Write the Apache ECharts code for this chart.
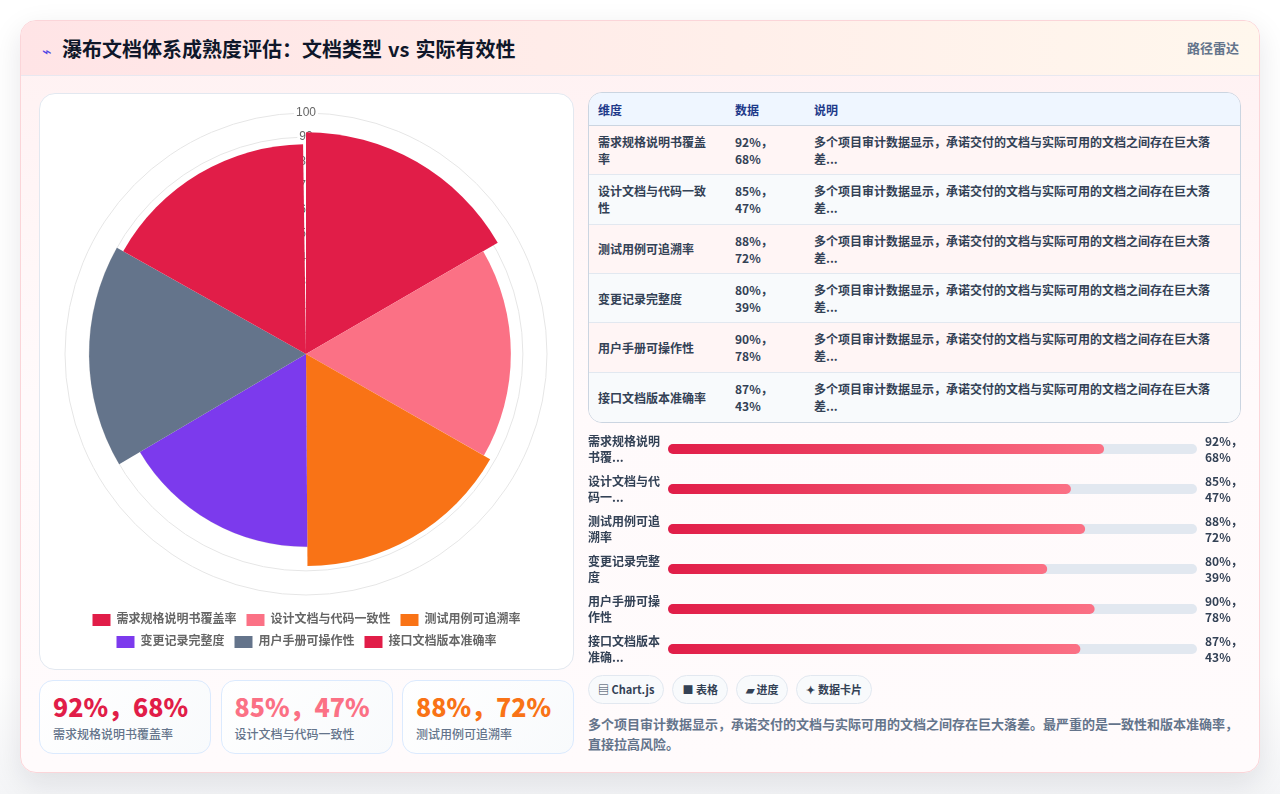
<!DOCTYPE html>
<html lang="zh-CN">
<head>
<meta charset="utf-8">
<title>瀑布文档体系成熟度评估</title>
<script src="https://cdn.jsdelivr.net/npm/echarts@6/dist/echarts.min.js"></script>
<style>
*{box-sizing:border-box;margin:0;padding:0}
html,body{width:1280px;height:794px;overflow:hidden;background:#fff;font-family:"Noto Sans CJK SC",sans-serif}
body{background:linear-gradient(180deg,#fff 0%,#fff 85%,#f4f5f7 100%)}
.card{position:absolute;left:20px;top:20px;width:1240px;height:753px;border:1px solid #fbd5d9;border-radius:16px;overflow:hidden;
 background:linear-gradient(180deg,#fff1f2 0%,#fffafb 50%,#fffbfc 100%);box-shadow:0 10px 30px rgba(15,23,42,.10)}
.head{position:absolute;left:0;top:0;width:1238px;height:55px;background:linear-gradient(90deg,#ffe4e6,#fff7ed);border-bottom:1px solid #e8e8f0}
.head h1{position:absolute;left:21px;top:13px;font-size:20px;line-height:30px;font-weight:700;color:#0f172a;white-space:nowrap;word-spacing:1.5px}
.head h1 i{font-style:normal;font-weight:400;color:#4f46e5;display:inline-block;width:20px;font-size:16px}
.head span{position:absolute;right:20px;top:17px;font-size:13px;line-height:20px;font-weight:600;color:#64748b}
.panel{position:absolute;left:18px;top:72px;width:535px;height:577px;background:#fff;border:1px solid #e2e8f0;border-radius:16px}
#rose{position:absolute;left:0;top:0;width:533px;height:575px}
.stat{position:absolute;top:659px;height:74px;width:172px;background:linear-gradient(135deg,#fff,#f8fafc);border:1px solid #dbeafe;border-radius:14px}
.stat b{position:absolute;left:13px;top:10px;font-size:25px;line-height:30px;font-weight:900;white-space:nowrap}
.stat em{position:absolute;left:13px;top:44px;font-style:normal;font-size:12px;line-height:18px;font-weight:500;color:#64748b;white-space:nowrap}
table{position:absolute;left:567px;top:71px;width:653px;height:331px;border-collapse:separate;border-spacing:0;border:1px solid #cbd5e1;border-radius:14px;overflow:hidden;font-size:12px;table-layout:fixed;color:#334155}
th{background:#eff6ff;color:#1e3a8a;text-align:left;font-weight:700;height:33px;padding:0 9px;border-bottom:1px solid #cbd5e1}
td{height:49.3px;padding:0 9px;line-height:17px;font-weight:600;border-bottom:1px solid #e2e8f0}
tr:last-child td{border-bottom:0}
tbody tr:nth-child(odd) td{background:#fff5f5}
tbody tr:nth-child(even) td{background:#f8fafc}
#progress{position:absolute;left:560px;top:404px;width:670px;height:246px}
.chips{position:absolute;left:567px;top:654px;display:flex;gap:8px}
.chips span{height:29px;line-height:27px;padding:0 9px;border:1px solid #e2e8f0;border-radius:15px;background:#f8fafc;font-size:11px;font-weight:700;color:#334155;white-space:nowrap}
.note{position:absolute;left:567px;top:693px;width:650px;font-size:13px;line-height:20px;font-weight:600;color:#64748b}
</style>
</head>
<body>
<div class="card">
  <div class="head">
    <h1><i>⌁</i>瀑布文档体系成熟度评估：文档类型 vs 实际有效性</h1>
    <span>路径雷达</span>
  </div>
  <div class="panel"><div id="rose"></div></div>
  <div id="stats"></div>
  <table id="tbl"></table>
  <div id="progress"></div>
  <div class="chips"><span>▤ Chart.js</span><span>■ 表格</span><span>▰ 进度</span><span>✦ 数据卡片</span></div>
  <div class="note" id="note"></div>
</div>
<script>
// Document dimensions and their promised / effective figures
const categories = ['需求规格说明书覆盖率','设计文档与代码一致性','测试用例可追溯率','变更记录完整度','用户手册可操作性','接口文档版本准确率'];
const promised = [92,85,88,80,90,87];
const effective = [68,47,72,39,78,43];
const sliceColors = ['#e11d48','#fb7185','#f97316','#7c3aed','#64748b','#e11d48'];
const radialTicks = [0,10,20,30,40,50,60,70,80,90,100];
const barLabels = ['需求规格说明\n书覆...','设计文档与代\n码一...','测试用例可追\n溯率','变更记录完整\n度','用户手册可操\n作性','接口文档版本\n准确...'];
const summary = '多个项目审计数据显示，承诺交付的文档与实际可用的文档之间存在巨大落差。最严重的是一致性和版本准确率，直接拉高风险。';
const rowNote = '多个项目审计数据显示，承诺交付的文档与实际可用的文档之间存在巨大落差...';

const pair = i => promised[i] + '%，' + effective[i] + '%';

// Summary cards for the first three dimensions
document.getElementById('stats').innerHTML = [0,1,2].map(i =>
  `<div class="stat" style="left:${18 + i * 181.5}px"><b style="color:${sliceColors[i]}">${pair(i)}</b><em>${categories[i]}</em></div>`).join('');

// Detail table
document.getElementById('tbl').innerHTML =
  '<colgroup><col style="width:137px"><col style="width:79px"><col></colgroup>' +
  '<thead><tr><th>维度</th><th>数据</th><th>说明</th></tr></thead><tbody>' +
  categories.map((c,i) => `<tr><td>${c}</td><td>${promised[i]}%，${effective[i]}%</td><td>${rowNote}</td></tr>`).join('') +
  '</tbody></table>';
document.getElementById('note').textContent = summary;

// Polar area chart: one series per dimension in a shared stack, so each gets a legend entry
const sansFont = '"Liberation Sans","Noto Sans CJK SC",sans-serif';
const rose = echarts.init(document.getElementById('rose'), null, {renderer:'canvas'});
rose.setOption({
  animation:false,
  legend:[0,1].map(row => ({
    data: row ? categories.slice(3) : categories.slice(0,3),
    top: row ? 537 : 515, left:'center',
    itemWidth:18, itemHeight:12, itemGap:10, icon:'rect',
    textStyle:{fontSize:12, fontWeight:600, color:'#666', fontFamily:sansFont, padding:[0,0,0,1]}
  })),
  polar:{center:[266,260], radius:241},
  angleAxis:{type:'category', data:categories, startAngle:90, endAngle:-269.2, clockwise:true, boundaryGap:true,
    axisLine:{show:false}, axisTick:{show:false}, axisLabel:{show:false}, splitLine:{show:false}},
  radiusAxis:{type:'value', min:radialTicks[0], max:radialTicks[radialTicks.length-1], interval:10, z:1,
    axisLine:{show:false}, axisTick:{show:false},
    axisLabel:{color:'#666', fontSize:12, fontFamily:sansFont, align:'center', verticalAlign:'middle', margin:0,
      showMinLabel:false, backgroundColor:'#fff', padding:[0,2]},
    splitLine:{lineStyle:{color:'#e6e6e6', width:1}}},
  series:categories.map((name,i) => ({
    type:'bar', coordinateSystem:'polar', name, stack:'slices', barWidth:'100%', barCategoryGap:'0%', z:3,
    encode:{radius:1, angle:0},
    itemStyle:{color:sliceColors[i]},
    data:[[name, promised[i]]]
  }))
});

// Progress rows
const progress = echarts.init(document.getElementById('progress'), null, {renderer:'canvas'});
const uiFont = '"Noto Sans CJK SC",sans-serif';
progress.setOption({
  animation:false,
  grid:{left:87, top:4, right:54, height:240, outerBoundsMode:'none'},
  xAxis:{type:'value', min:0, max:111.6, show:false},
  yAxis:[
    {type:'category', inverse:true, data:barLabels, axisLine:{show:false}, axisTick:{show:false},
     axisLabel:{color:'#334155', fontSize:12, fontWeight:600, lineHeight:16, fontFamily:uiFont, align:'left', margin:80}},
    {type:'category', inverse:true, position:'right', data:promised.map((v,i)=>v+'%，\n'+effective[i]+'%'), axisLine:{show:false}, axisTick:{show:false},
     axisLabel:{color:'#334155', fontSize:12, fontWeight:700, lineHeight:16, fontFamily:uiFont, align:'left', margin:8}}
  ],
  series:[{
    type:'bar', barWidth:10, showBackground:true,
    backgroundStyle:{color:'#e2e8f0', borderRadius:5},
    itemStyle:{borderRadius:5, color:new echarts.graphic.LinearGradient(0,0,1,0,[{offset:0,color:'#e11d48'},{offset:1,color:'#fb7185'}])},
    data:promised
  }]
});
</script>
</body>
</html>
